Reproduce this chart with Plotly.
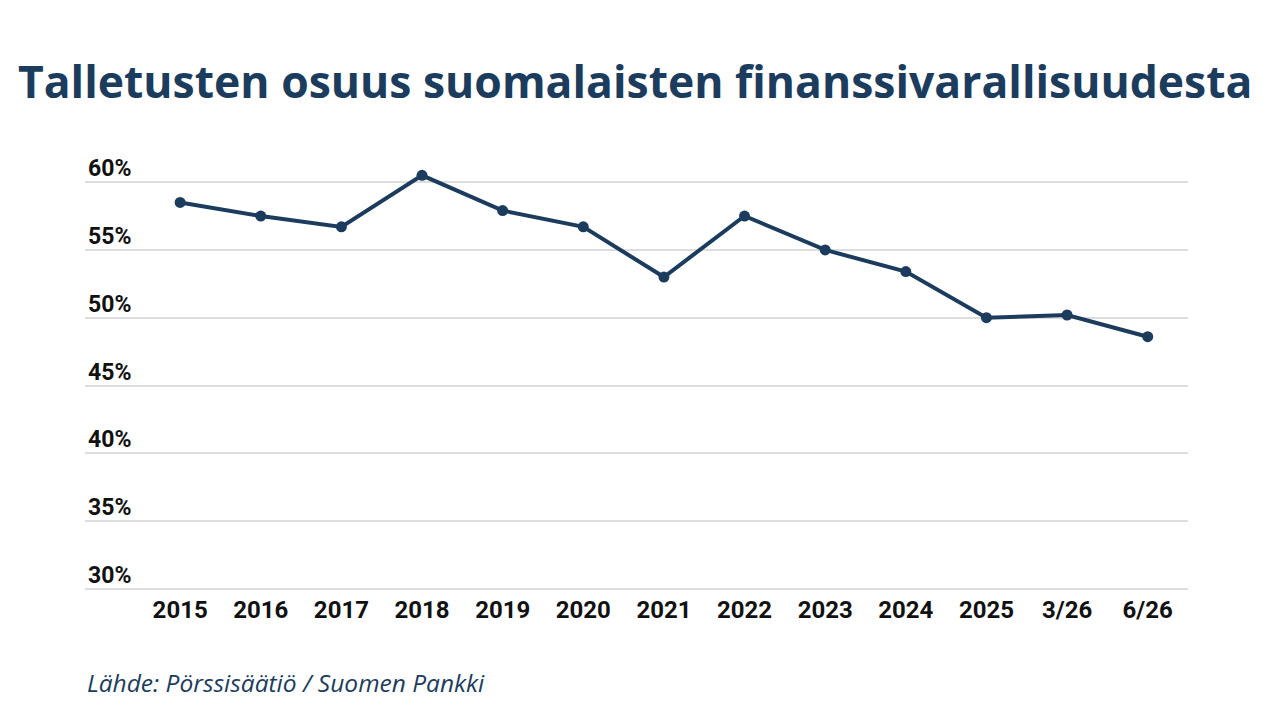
import plotly.graph_objects as go

# Data
periods = ["2015", "2016", "2017", "2018", "2019", "2020", "2021",
           "2022", "2023", "2024", "2025", "3/26", "6/26"]
deposit_share = [58.5, 57.5, 56.7, 60.5, 57.9, 56.7, 53.0,
                 57.5, 55.0, 53.4, 50.0, 50.2, 48.6]
y_ticks = [30, 35, 40, 45, 50, 55, 60]
y_tick_labels = ["30%", "35%", "40%", "45%", "50%", "55%", "60%"]

title_text = "Talletusten osuus suomalaisten finanssivarallisuudesta"
source_text = "Lähde: Pörssisäätiö / Suomen Pankki"

navy = "#1c3c5e"

fig = go.Figure()
fig.add_trace(
    go.Scatter(
        x=list(range(len(periods))),
        y=deposit_share,
        mode="lines+markers",
        line=dict(color=navy, width=4),
        marker=dict(color=navy, size=11),
        showlegend=False,
    )
)

fig.update_layout(
    width=1280,
    height=720,
    margin=dict(l=77, r=100, t=147, b=135),
    paper_bgcolor="white",
    plot_bgcolor="white",
    title=dict(
        text="<b>" + title_text + "</b>",
        x=0.49, xanchor="center",
        y=0.897, yanchor="middle",
        font=dict(family="Open Sans", size=44.5, color=navy),
    ),
)

fig.update_xaxes(
    tickmode="array",
    tickvals=list(range(len(periods))),
    ticktext=["<b>" + p + "</b>" for p in periods],
    range=[-1.18, 12.5],
    showgrid=False,
    zeroline=False,
    showline=False,
    ticks="",
    tickfont=dict(family="Roboto", size=24, color="#111111"),
)

fig.update_yaxes(
    tickmode="array",
    tickvals=y_ticks,
    ticktext=["<b>" + t + "</b>" for t in y_tick_labels],
    range=[29.7, 62],
    showgrid=True,
    gridcolor="#dddddd",
    gridwidth=2,
    zeroline=False,
    showline=False,
    ticks="",
    ticklabelposition="inside",
    ticklabelshift=-14,
    ticklabelstandoff=0,
    tickfont=dict(family="Roboto", size=23, color="#111111"),
)

fig.add_annotation(
    text="<i>" + source_text + "</i>",
    xref="paper", yref="paper",
    x=0, y=-0.205, xanchor="left", yanchor="middle",
    showarrow=False,
    font=dict(family="Open Sans", size=24.5, color=navy),
)

fig.write_html("out.html")
